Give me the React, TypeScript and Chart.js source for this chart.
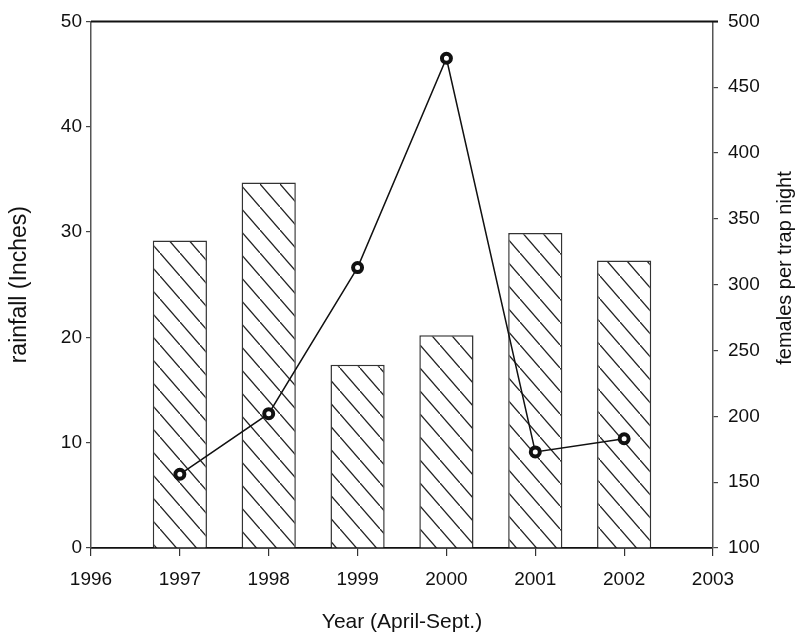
import React, { useEffect, useRef } from "react";
import { Chart, registerables } from "chart.js";

Chart.register(...registerables);

const years = [1997, 1998, 1999, 2000, 2001, 2002];
const rainfall = [29.2, 34.7, 17.4, 20.2, 29.9, 27.3];
const females = [156, 202, 313, 472, 173, 183];
const xMin = 1996;
const xMax = 2003;

const SANS = "'Liberation Sans', Arial, sans-serif";

function makeHatch(): CanvasPattern | string {
  const w = 20;
  const h = 23;
  const c = document.createElement("canvas");
  c.width = w;
  c.height = h;
  const ctx = c.getContext("2d");
  if (!ctx) return "#fff";
  ctx.fillStyle = "#fff";
  ctx.fillRect(0, 0, w, h);
  ctx.strokeStyle = "#222";
  ctx.lineWidth = 1.3;
  for (let k = -1; k <= 1; k++) {
    ctx.beginPath();
    ctx.moveTo(k * w, k * h);
    ctx.lineTo(k * w + w, k * h + h);
    ctx.stroke();
  }
  const p = ctx.createPattern(c, "repeat");
  return p || "#fff";
}

export default function App() {
  const ref = useRef<HTMLCanvasElement | null>(null);

  useEffect(() => {
    if (!ref.current) return;
    const hatch = makeHatch();

    const framePlugin = {
      id: "frameAndRightTitle",
      afterDraw(chart: any) {
        const { ctx, chartArea } = chart;
        ctx.save();
        ctx.strokeStyle = "#111";
        ctx.lineWidth = 2;
        ctx.beginPath();
        ctx.moveTo(chartArea.left, chartArea.top);
        ctx.lineTo(chartArea.right + 5, chartArea.top);
        ctx.stroke();
        ctx.fillStyle = "#111";
        ctx.font = `20px ${SANS}`;
        ctx.textAlign = "center";
        ctx.textBaseline = "middle";
        ctx.translate(785, 268);
        ctx.rotate(-Math.PI / 2);
        ctx.fillText("females per trap night", 0, 0);
        ctx.restore();
      },
    };

    const chart = new Chart(ref.current, {
      type: "bar",
      data: {
        datasets: [
          {
            type: "line",
            label: "females per trap night",
            data: years.map((y, i) => ({ x: y, y: females[i] })),
            yAxisID: "y1",
            xAxisID: "x",
            borderColor: "#111",
            borderWidth: 1.5,
            pointRadius: 4.5,
            pointBorderWidth: 4,
            pointBorderColor: "#111",
            pointBackgroundColor: "#fff",
            tension: 0,
            order: 0,
          } as any,
          {
            type: "bar",
            label: "rainfall",
            data: years.map((y, i) => ({ x: y, y: rainfall[i] })),
            yAxisID: "y",
            xAxisID: "x",
            backgroundColor: hatch as any,
            borderColor: "#333",
            borderWidth: 1.5,
            barPercentage: 0.61,
            categoryPercentage: 1,
            order: 1,
          } as any,
        ],
      },
      options: {
        animation: false,
        responsive: true,
        maintainAspectRatio: false,
        layout: { padding: { top: 16, left: 0, right: 0, bottom: 0 } },
        plugins: {
          legend: { display: false },
          tooltip: { enabled: false },
        },
        scales: {
          x: {
            type: "linear",
            min: xMin,
            max: xMax,
            offset: false,
            afterFit: (s: any) => {
              s.height = 95;
            },
            ticks: {
              stepSize: 1,
              autoSkip: false,
              maxRotation: 0,
              padding: 12,
              color: "#111",
              font: { family: SANS, size: 19 },
              callback: (v: any) => String(v),
            },
            grid: {
              display: true,
              offset: false,
              drawOnChartArea: false,
              drawTicks: true,
              tickLength: 8,
              color: "#333",
              lineWidth: 1.2,
            },
            border: { display: true, color: "#111", width: 1.8 },
            title: {
              display: true,
              text: "Year (April-Sept.)",
              color: "#111",
              font: { family: SANS, size: 21 },
              padding: { top: 0, bottom: 8 },
            },
          },
          y: {
            type: "linear",
            position: "left",
            min: 0,
            max: 50,
            afterFit: (s: any) => {
              s.width = 91;
            },
            ticks: {
              stepSize: 10,
              padding: 4,
              color: "#111",
              font: { family: SANS, size: 19 },
            },
            grid: {
              display: true,
              drawOnChartArea: false,
              drawTicks: true,
              tickLength: 5,
              color: "#444",
              lineWidth: 1.2,
            },
            border: { display: true, color: "#555", width: 1.5 },
            title: {
              display: true,
              text: "rainfall (Inches)",
              color: "#111",
              font: { family: SANS, size: 23 },
              padding: { top: 6, bottom: 0 },
            },
          },
          y1: {
            type: "linear",
            position: "right",
            min: 100,
            max: 500,
            afterFit: (s: any) => {
              s.width = 87;
            },
            ticks: {
              stepSize: 50,
              padding: 10,
              color: "#111",
              font: { family: SANS, size: 19 },
            },
            grid: {
              display: true,
              drawOnChartArea: false,
              drawTicks: true,
              tickLength: 5,
              color: "#444",
              lineWidth: 1.2,
            },
            border: { display: true, color: "#555", width: 1.5 },
          },
        },
      } as any,
      plugins: [framePlugin],
    });

    return () => chart.destroy();
  }, []);

  return (
    <div
      style={{
        position: "fixed",
        left: 0,
        top: 0,
        width: 800,
        height: 643,
        background: "#fff",
      }}
    >
      <canvas ref={ref} />
    </div>
  );
}
